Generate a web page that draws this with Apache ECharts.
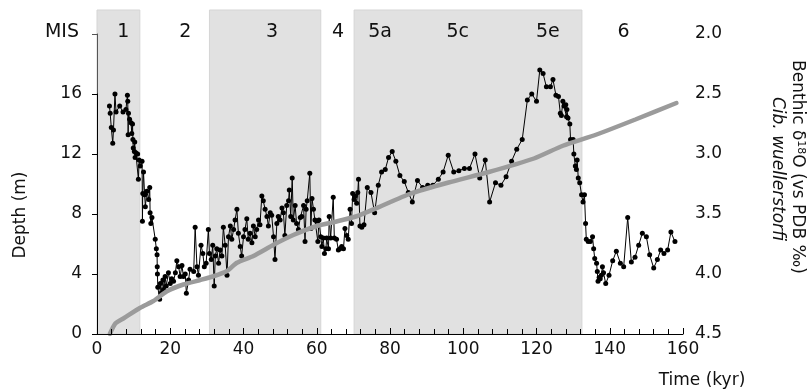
<!DOCTYPE html>
<html>
<head>
<meta charset="utf-8">
<script src="https://cdn.jsdelivr.net/npm/echarts@6/dist/echarts.min.js"></script>
<style>
  html, body { margin: 0; padding: 0; background: #fff; }
  #main { width: 812px; height: 392px; }
</style>
</head>
<body>
<div id="main"></div>
<script>
// marine isotope stages
const stageNames = ['1', '2', '3', '4', '5a', '5c', '5e', '6'];
const stageCentres = [7.2, 24.1, 47.8, 65.8, 77.3, 98.5, 123.1, 143.8];
const shadedStart = [0, 30.7, 70.2];
const shadedEnd = [11.7, 61.1, 132.4];

// age model: depth (m) vs time (kyr)
const ageTime = [3.5, 5, 7.3, 11.8, 15.4, 19.1, 23.6, 28.2, 31.8, 35.5, 38.2, 42.7, 48.2, 53.6, 60, 65.4, 70.9, 76.4, 85.5, 96, 107, 119.3, 127.2, 136.4, 147, 158.2];
const ageDepth = [0, 0.7, 1.05, 1.75, 2.2, 2.85, 3.3, 3.6, 3.85, 4.2, 4.75, 5.2, 5.95, 6.6, 7.2, 7.5, 7.85, 8.4, 9.35, 10.1, 10.8, 11.7, 12.55, 13.3, 14.3, 15.4];

// benthic d18O (Cib. wuellerstorfi)
const isoTime = [
  3.4, 3.6, 3.9, 4.3, 4.5, 4.9, 5.2, 6.2, 7.1, 7.9, 8.3, 8.4, 8.5, 8.6, 8.9, 9.3, 9.5, 9.7, 9.8, 9.9,
  10.2, 10.3, 10.4, 10.6, 11.1, 11.3, 11.5, 11.8, 12.3, 12.4, 12.5, 12.7, 13.0, 13.2, 13.6, 14.1, 14.4, 14.5, 14.7, 15.0,
  15.9, 16.2, 16.4, 16.45, 16.5, 16.6, 17.1, 17.3, 17.5, 18.0, 18.2, 18.6, 18.9, 19.5, 20.0, 20.4, 20.9, 21.4, 21.8, 22.3,
  22.7, 23.2, 23.6, 24.1, 24.4, 25.0, 25.4, 26.4, 26.8, 27.3, 27.7, 28.4, 28.9, 29.3, 29.8, 30.4, 30.7, 31.2, 31.6, 32.0,
  32.3, 32.7, 33.2, 33.6, 34.1, 34.5, 35.0, 35.5, 35.9, 36.4, 36.8, 37.3, 37.7, 38.2, 38.6, 39.1, 39.5, 40.0, 40.4, 40.9,
  41.3, 41.8, 42.3, 42.7, 43.2, 43.6, 44.1, 44.5, 45.0, 45.4, 45.9, 46.4, 46.8, 47.3, 47.7, 48.2, 48.6, 49.1, 49.5, 50.0,
  50.5, 50.9, 51.3, 51.8, 52.3, 52.5, 52.9, 53.3, 53.6, 54.1, 54.5, 55.0, 55.5, 55.9, 56.4, 56.8, 57.1, 57.4, 58.1, 58.4,
  58.7, 59.1, 59.5, 60.0, 60.3, 60.6, 61.1, 61.4, 61.8, 62.1, 62.5, 62.7, 63.2, 63.4, 63.8, 64.5, 64.8, 65.4, 65.9, 66.3,
  66.8, 67.3, 67.7, 68.2, 68.6, 69.1, 69.5, 69.8, 70.2, 70.5, 70.9, 71.2, 71.4, 71.8, 72.3, 72.9, 73.8, 74.8, 75.8, 76.8,
  77.7, 78.7, 79.6, 80.6, 81.6, 82.7, 83.9, 85.0, 86.1, 87.5, 88.9, 90.3, 91.7, 93.2, 94.5, 95.9, 97.4, 98.8, 100.3, 101.7,
  103.2, 104.5, 106.0, 107.2, 108.8, 110.3, 111.7, 113.2, 114.6, 116.1, 117.5, 118.7, 120.0, 120.9, 121.8, 122.7, 123.8, 124.5, 125.3, 126.0,
  126.5, 126.8, 127.2, 127.5, 128.0, 128.2, 128.3, 128.6, 129.1, 129.3, 130.0, 130.2, 130.6, 130.9, 131.1, 131.4, 131.8, 132.3, 132.7, 133.1,
  133.4, 133.6, 134.1, 134.7, 135.3, 135.6, 135.9, 136.4, 136.6, 136.8, 137.1, 137.4, 137.7, 138.0, 138.3, 138.9, 139.8, 140.8, 141.8, 142.9,
  143.8, 144.9, 145.9, 146.9, 147.9, 148.9, 150.0, 150.9, 152.0, 153.0, 153.9, 154.8, 155.8, 156.7, 157.8
];
const isoValue = [
  2.6, 2.66, 2.78, 2.91, 2.8, 2.5, 2.65, 2.6, 2.65, 2.63, 2.51, 2.56, 2.84, 2.66, 2.71, 2.74, 2.83, 2.75, 2.88, 2.95,
  2.98, 2.9, 3.03, 2.99, 3.0, 3.21, 3.05, 3.1, 3.06, 3.56, 3.33, 3.15, 3.34, 3.44, 3.31, 3.38, 3.28, 3.49, 3.58, 3.53,
  3.71, 3.79, 3.84, 3.94, 4.0, 4.11, 4.21, 4.08, 4.16, 4.05, 4.13, 4.02, 4.1, 3.99, 4.08, 4.04, 4.06, 3.99, 3.89, 3.94,
  4.02, 3.93, 4.02, 4.0, 4.16, 4.05, 3.96, 3.98, 3.61, 3.94, 4.01, 3.76, 3.83, 3.94, 3.91, 3.63, 3.83, 3.88, 3.76, 4.1,
  3.85, 3.79, 3.91, 3.8, 3.85, 3.61, 3.76, 4.01, 3.69, 3.6, 3.71, 3.63, 3.55, 3.46, 3.66, 3.77, 3.85, 3.69, 3.63, 3.54,
  3.71, 3.66, 3.74, 3.6, 3.69, 3.63, 3.55, 3.59, 3.35, 3.39, 3.46, 3.52, 3.6, 3.49, 3.51, 3.69, 3.88, 3.58, 3.52, 3.55,
  3.45, 3.49, 3.68, 3.43, 3.39, 3.3, 3.52, 3.2, 3.55, 3.43, 3.58, 3.63, 3.53, 3.52, 3.43, 3.73, 3.46, 3.39, 3.16, 3.62,
  3.37, 3.46, 3.55, 3.56, 3.73, 3.55, 3.69, 3.77, 3.7, 3.83, 3.79, 3.7, 3.79, 3.52, 3.7, 3.36, 3.7, 3.71, 3.8, 3.79,
  3.77, 3.79, 3.62, 3.68, 3.71, 3.46, 3.58, 3.33, 3.38, 3.35, 3.41, 3.32, 3.21, 3.6, 3.61, 3.59, 3.28, 3.32, 3.49, 3.26,
  3.15, 3.13, 3.03, 2.98, 3.06, 3.18, 3.23, 3.32, 3.4, 3.22, 3.28, 3.26, 3.26, 3.21, 3.15, 3.01, 3.15, 3.14, 3.12, 3.12,
  3.0, 3.2, 3.05, 3.4, 3.24, 3.26, 3.19, 3.06, 2.96, 2.88, 2.55, 2.5, 2.56, 2.3, 2.33, 2.44, 2.44, 2.38, 2.51, 2.52,
  2.66, 2.68, 2.56, 2.6, 2.59, 2.69, 2.63, 2.7, 2.75, 2.88, 2.88, 3.0, 3.1, 3.13, 3.05, 3.2, 3.24, 3.34, 3.4, 3.34,
  3.58, 3.71, 3.73, 3.73, 3.69, 3.79, 3.87, 3.91, 3.98, 4.06, 4.03, 4.04, 4.01, 3.94, 3.99, 4.08, 4.01, 3.89, 3.81, 3.91,
  3.94, 3.53, 3.9, 3.86, 3.76, 3.66, 3.69, 3.84, 3.95, 3.88, 3.8, 3.83, 3.8, 3.65, 3.73
];

const FONT = 'DejaVu Sans';
const INK = '#111';
const chart = echarts.init(document.getElementById('main'));

const gridPos = { left: 97, right: 129, bottom: 58 };

const option = {
  backgroundColor: '#fff',
  animation: false,
  grid: [
    { ...gridPos, top: 34 },   // isotope axis (right)
    { ...gridPos, top: 94 },   // depth axis (left)
    { ...gridPos, top: 10 }    // stage shading
  ],
  xAxis: [
    {
      gridIndex: 0, type: 'value', min: 0, max: 160, interval: 20, z: 6,
      axisLine: { lineStyle: { color: '#000', width: 1 } },
      axisTick: { inside: true, length: 6, lineStyle: { color: '#000' } },
      minorTick: { show: true, splitNumber: 5, length: 5, lineStyle: { color: '#000' } },
      splitLine: { show: false },
      axisLabel: { fontFamily: FONT, fontSize: 17, color: INK, margin: 7 }
    },
    { gridIndex: 1, type: 'value', min: 0, max: 160, show: false },
    { gridIndex: 2, type: 'value', min: 0, max: 160, show: false }
  ],
  yAxis: [
    {
      gridIndex: 0, type: 'value', position: 'right', min: 2, max: 4.5, interval: 0.5, inverse: true, z: 6,
      axisLine: { show: true, lineStyle: { color: '#555', width: 1 } },
      axisTick: { show: true, inside: true, length: 5, lineStyle: { color: '#555' } },
      splitLine: { show: false },
      axisLabel: { fontFamily: FONT, fontSize: 17, color: INK, margin: 12, formatter: (v) => v.toFixed(1) }
    },
    {
      gridIndex: 1, type: 'value', position: 'left', min: 0, max: 16, interval: 4, z: 6,
      axisLine: { show: true, lineStyle: { color: '#000', width: 1 } },
      axisTick: { show: true, length: 5, lineStyle: { color: '#000' } },
      splitLine: { show: false },
      axisLabel: { fontFamily: FONT, fontSize: 17, color: INK, margin: 15 }
    },
    { gridIndex: 2, type: 'value', min: 0, max: 1, show: false }
  ],
  series: [
    {
      type: 'line', xAxisIndex: 2, yAxisIndex: 2, data: [], silent: true, z: 1,
      markArea: {
        silent: true,
        itemStyle: { color: '#e1e1e1', borderColor: '#d5d5d5', borderWidth: 1 },
        data: shadedStart.map((s, i) => [{ xAxis: s }, { xAxis: shadedEnd[i] }])
      }
    },
    {
      type: 'scatter', xAxisIndex: 2, yAxisIndex: 2, silent: true, symbolSize: 0, z: 3,
      itemStyle: { opacity: 1 },
      data: stageNames.map((n, i) => ({ name: n, value: [stageCentres[i], 0.932] })),
      label: {
        show: true, position: 'inside', formatter: (p) => p.name,
        fontFamily: FONT, fontSize: 19, color: INK, opacity: 1
      }
    },
    {
      type: 'line', xAxisIndex: 0, yAxisIndex: 0, z: 4,
      data: isoTime.map((t, i) => [t, isoValue[i]]),
      symbol: 'circle', symbolSize: 5, showSymbol: true,
      lineStyle: { color: '#000', width: 1 },
      itemStyle: { color: '#000' }
    },
    {
      type: 'line', xAxisIndex: 1, yAxisIndex: 1, z: 5,
      data: ageTime.map((t, i) => [t, ageDepth[i]]),
      showSymbol: false, smooth: 0.2,
      lineStyle: { color: '#9b9b9b', width: 4.5, cap: 'round' }
    }
  ],
  graphic: [
    {
      type: 'text', x: 62, y: 32,
      style: { text: 'MIS', font: '19px "DejaVu Sans"', fill: INK, align: 'center', verticalAlign: 'middle' }
    },
    {
      type: 'text', x: 21, y: 215, rotation: Math.PI / 2,
      style: { text: 'Depth (m)', font: '17px "DejaVu Sans"', fill: INK, align: 'center', verticalAlign: 'middle' }
    },
    {
      type: 'text', x: 702, y: 381,
      style: { text: 'Time (kyr)', font: '17px "DejaVu Sans"', fill: INK, align: 'center', verticalAlign: 'middle' }
    },
    {
      type: 'text', x: 797, y: 167, rotation: -Math.PI / 2,
      style: {
        text: '{a|Benthic δ}{s|18}{a|O (vs PDB ‰)}',
        align: 'center', verticalAlign: 'middle', fill: INK,
        rich: {
          a: { fontFamily: FONT, fontSize: 17, fill: INK },
          s: { fontFamily: FONT, fontSize: 11, fill: INK, verticalAlign: 'top', padding: [0, 0, 8, 0] }
        }
      }
    },
    {
      type: 'text', x: 777, y: 169, rotation: -Math.PI / 2,
      style: { text: 'Cib. wuellerstorfi', font: 'italic 17px "DejaVu Sans"', fill: INK, align: 'center', verticalAlign: 'middle' }
    }
  ]
};

chart.setOption(option);
</script>
</body>
</html>
